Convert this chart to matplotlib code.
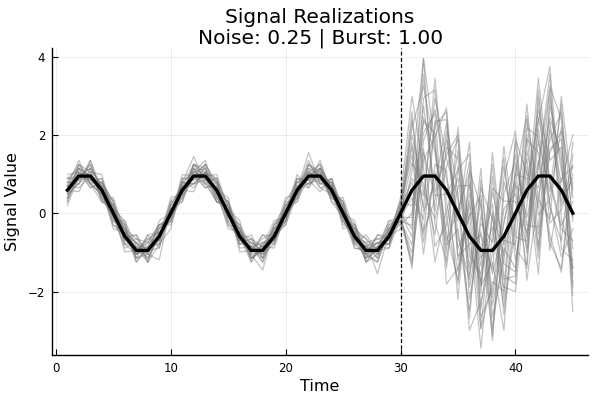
import matplotlib
matplotlib.use("Agg")
import matplotlib.pyplot as plt
import numpy as np

# --- Data ---
time = list(range(1, 46))
signal = [0.59, 0.95, 0.95, 0.59, 0.0, -0.59, -0.95, -0.95, -0.59, 0.0,
          0.59, 0.95, 0.95, 0.59, 0.0, -0.59, -0.95, -0.95, -0.59, 0.0,
          0.59, 0.95, 0.95, 0.59, 0.0, -0.59, -0.95, -0.95, -0.59, 0.0,
          0.59, 0.95, 0.95, 0.59, 0.0, -0.59, -0.95, -0.95, -0.59, 0.0,
          0.59, 0.95, 0.95, 0.59, 0.0]
burst_start = 30

# noise offsets, in units of 0.1 (t = 1..30)
noise_pre = [
    [2, -1, 3, 0, -4, 1, 2, -2, 0, 3, -3, 1, 4, -1, 0, -2, 2, 1, -3, 0, 2, -1, -4, 3, 1, 0, -2, 4, -1, 2],
    [-3, 2, 0, 1, 3, -2, -1, 4, -3, 0, 1, -2, -1, 3, 2, -4, 0, 1, 2, -3, -1, 3, 0, -2, 4, 1, -1, -3, 2, 0],
    [1, 4, -2, -1, 0, 3, -3, 1, 2, -1, 4, 0, -2, -3, 1, 2, -1, 4, 0, -2, 3, -2, 1, 0, -3, 2, 3, -1, 0, -4],
    [0, -2, 1, 4, -1, -3, 2, 0, -1, 2, -2, 3, 1, 0, -4, 1, 3, -2, 1, 4, -1, 0, 2, -3, -1, 3, -2, 1, 4, -1],
    [-1, 1, -3, 2, 1, 0, 4, -1, 3, -2, 0, -1, 2, -3, 3, 0, -2, 1, -1, 2, 0, 4, -2, 1, 2, -3, 0, 2, -2, 1],
    [3, 0, 2, -3, 2, -1, 0, 3, -2, -4, 2, 1, 0, 2, -1, 3, 1, -3, 2, -1, -2, 1, 3, 0, -1, -2, 4, 0, 1, -3],
    [-2, 3, -1, 0, -2, 4, 1, -2, 0, 1, -1, 2, -3, 1, 0, -1, 4, -2, 3, 0, 1, -2, -1, 2, 0, 4, -3, 1, -2, 2],
    [1, -3, 0, 2, 3, 1, -2, -1, 4, 0, 2, -3, 1, -1, 3, 2, -2, 0, -1, 3, -3, 0, 2, 1, -2, -1, 1, 3, 0, -2],
    [4, 1, -1, -2, 0, 2, 3, 0, -3, 1, -2, 0, 3, 2, -2, -1, 0, 3, 1, -2, 2, 1, -3, -1, 3, 0, 2, -2, 1, 3],
    [-4, 0, 2, 1, -3, 0, -1, 3, 1, -2, 3, -1, 0, -2, 1, 4, -3, 2, 0, 1, -2, 3, 1, -1, 0, 2, -1, 0, 3, -1],
    [0, 2, -2, 3, 1, -4, 0, 1, -1, 4, -1, 2, -2, 0, 3, -1, 1, -1, -2, 0, 4, -3, 2, 1, -1, -3, 0, 2, -1, 4],
    [2, -2, 4, -1, 0, 2, -3, 1, 2, -1, 0, -4, 3, 1, -1, 0, 2, -3, 0, 2, -1, 1, -2, 3, 1, 0, -1, -3, 2, 0],
    [-1, 3, 1, -2, 2, 0, 1, -3, -2, 2, 1, 3, -1, -3, 2, 1, -1, 0, 3, -1, 0, -2, 4, -1, -2, 1, 3, 0, -3, 1],
    [1, 0, -1, 3, -2, 2, -1, 2, 3, -3, 0, 1, 2, -1, -3, 2, 0, 4, -2, 1, -3, 2, 0, -2, 2, -1, 1, -2, 3, -2],
    [-2, -1, 3, -3, 4, 1, 2, -1, 0, 1, -3, 2, 0, 4, 1, -2, 3, -1, 0, -3, 1, -1, 2, 0, 3, -2, -1, 4, 0, 1],
    [3, 2, 0, -1, -1, -2, 3, 2, -1, 0, 2, -2, 1, -1, 0, 3, -2, 1, 4, -1, -1, 2, -3, 2, 0, 1, -3, -1, 2, -2],
    [0, -4, 2, 1, 2, 3, -2, 0, 1, -2, 3, 0, -3, 2, 2, -1, 1, -2, 0, 3, 2, -1, 1, -3, 1, -2, 2, 3, -2, 0],
    [-3, 1, -1, 2, 0, -1, 4, -3, 2, 1, -1, 3, 2, -2, 1, 0, -3, 2, -1, 0, 3, -2, 0, 2, -4, 3, 1, -1, 0, 3],
    [2, 3, -2, -1, 1, 4, -1, 1, -2, 3, 0, -2, 1, 3, -2, 1, 2, 0, -1, -2, 0, 3, -1, 1, 2, -1, -2, 0, 4, -3],
    [-1, -2, 4, 0, -3, 1, 0, 2, 3, -1, -2, 1, -1, 0, 4, -3, 1, 2, -2, 1, -1, 0, 3, -2, 1, 3, -1, 2, -1, 0],
    [1, 2, -3, 2, 3, -2, 1, -1, -6, 2, 1, 0, 3, -2, -1, 2, -1, -5, 2, 1, 3, -1, 0, 1, -2, 0, 2, -6, 1, 2],
    [-2, 0, 1, -2, -1, 3, -2, 4, 1, 0, 2, 5, -2, 3, 0, -2, 3, 1, -1, -1, 0, 6, -2, 3, -1, 2, 0, 1, -3, -1],
    [3, -1, 0, 1, 2, 0, 2, -3, 1, -1, -1, 3, 0, -3, 2, 1, -2, 0, 2, -2, 1, -3, 2, 0, 3, -1, 1, 2, -2, 1],
    [0, 1, -2, -3, 1, 2, -1, 0, 3, -2, 2, -2, 1, 2, -3, 0, 1, -1, 3, 2, -2, 1, -1, -1, 0, 2, -3, 1, 2, -2],
]

# burst noise offsets, units of 0.1 (t = 31..45)
noise_burst = [
    [12, -8, 25, -3, -15, 6, -20, 10, -5, 18, -12, 3, 22, -7, -14],
    [-10, 18, -4, 9, 20, -16, 5, -22, 14, -2, 8, -18, 6, 15, -25],
    [5, 30, -12, -18, 7, 13, -9, -3, -24, 10, 19, -6, -11, 24, 4],
    [-18, 4, 10, 21, -6, -11, 16, 8, -13, -20, 2, 14, 28, -4, 9],
    [20, -14, -6, 13, -1, 24, -17, -10, 7, 5, -15, 22, -8, -13, 18],
    [-6, 11, 16, -20, 12, -3, -8, 19, -16, 12, -23, -5, 9, 20, -2],
    [9, -20, 3, 5, -22, 17, 11, -14, -1, -8, 16, 10, -19, 3, 12],
    [-14, 7, -18, -9, 16, 2, -25, 4, 20, -12, -4, 25, -2, -10, -7],
    [16, 23, 7, -14, -4, -19, 9, -6, 3, 15, -9, -13, 18, 7, -18],
    [-2, -11, 14, 18, -12, 9, -4, 22, -10, -18, 13, 6, -15, -21, 15],
    [24, 2, -22, -5, 9, -8, 21, -17, -6, 7, -2, 17, 4, 11, -9],
    [-20, 15, 6, -11, -17, 14, 0, 12, -20, -3, 22, -10, -6, 16, 6],
    [3, -5, 20, 8, 4, -24, -13, -1, 15, 21, -16, 2, 26, -15, -12],
    [-9, 26, -9, 15, -9, 5, 14, -20, -3, -14, 6, -21, 12, 2, 20],
    [11, -17, 1, -16, 22, -5, -6, 16, 9, 3, -11, 12, -7, -17, -4],
    [-16, 9, 17, 3, -2, 19, -20, -8, -14, 19, 4, -3, 15, 9, -21],
    [7, -2, -15, 11, 14, -13, 7, 2, 18, -9, -19, 20, -12, -5, 10],
    [-4, 14, 11, -24, -14, 8, -11, 25, -7, -15, 10, -8, 23, 18, -14],
    [18, -9, -2, 17, 5, -21, 18, -12, 4, 8, -20, 15, -1, -9, 3],
    [-12, 20, 22, -7, -18, 11, -2, 6, -18, -1, 18, -15, 7, 13, -16],
    [14, -4, -11, 6, 19, -10, 13, -23, 11, 13, -7, 4, -17, -20, 8],
    [-7, 30, 8, -13, 1, 16, -15, 9, -11, -16, 14, -19, 20, 5, -1],
    [2, -15, 13, 20, -11, -2, 4, -5, 23, -6, -13, 9, -4, 22, -19],
    [-19, 6, -5, -1, 11, 21, -9, 15, -2, 10, 3, -25, 14, -3, 12],
]

# --- Style ---
plt.rcParams.update({
    "font.family": "DejaVu Sans",
    "axes.linewidth": 1.0,
})

fig = plt.figure(figsize=(6, 4), dpi=100)
ax = fig.add_axes([0.087, 0.1125, 0.893, 0.7675])

sig = np.array(signal)
for pre, burst in zip(noise_pre, noise_burst):
    noise = np.array(pre + burst) * 0.1
    ax.plot(time, sig + noise, color="#7a7a7a", alpha=0.45, linewidth=0.9)

ax.plot(time, signal, color="black", linewidth=2.4)
ax.axvline(burst_start, color="black", linestyle="--", linewidth=0.9, dashes=(3, 2))

ax.set_xlim(-0.32, 46.32)
ax.set_ylim(-3.62, 4.22)
ax.set_xticks([0, 10, 20, 30, 40])
ax.set_yticks([-2, 0, 2, 4])
ax.set_yticklabels(["\u22122", "0", "2", "4"])

ax.grid(True, color="black", alpha=0.08, linewidth=0.6)
for side in ["top", "right"]:
    ax.spines[side].set_visible(False)
ax.tick_params(direction="in", length=4, width=0.8, labelsize=8.5, colors="black", pad=5)

ax.set_xlabel("Time", fontsize=11.5, labelpad=3)
ax.set_ylabel("Signal Value", fontsize=11.5, labelpad=6)
ax.set_title("Signal Realizations\nNoise: 0.25 | Burst: 1.00", fontsize=14.5, linespacing=1.1, pad=2)

fig.savefig("out.png", dpi=100)
